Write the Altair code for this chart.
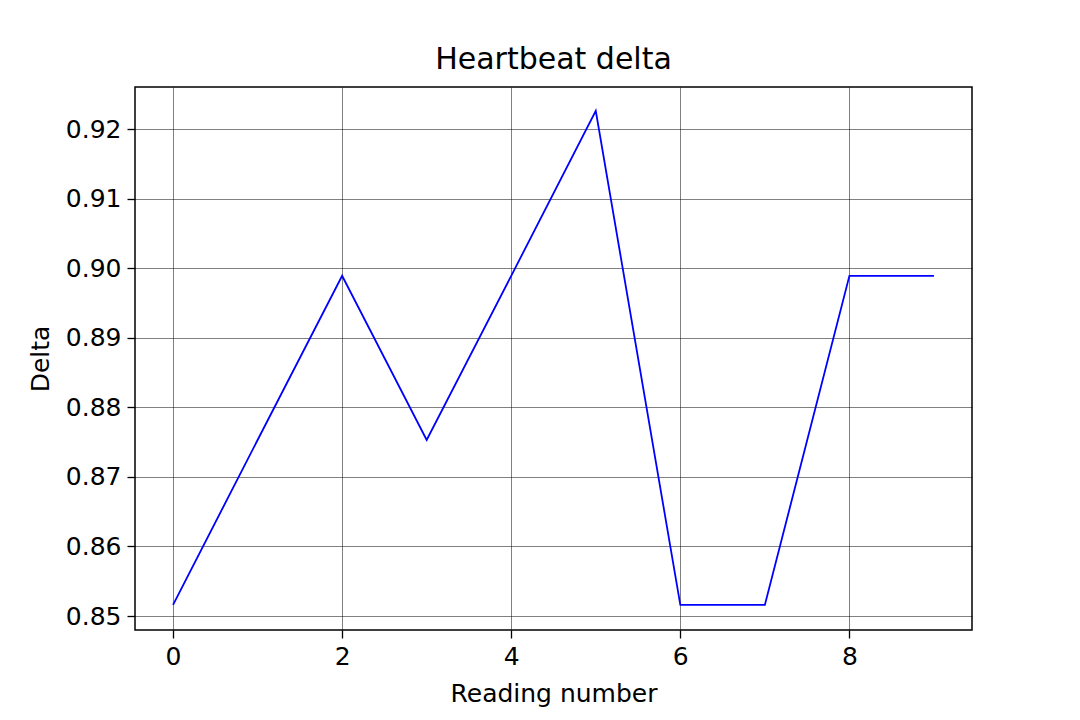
import altair as alt
import pandas as pd

readings = [0, 1, 2, 3, 4, 5, 6, 7, 8, 9]
deltas = [0.8516, 0.8753, 0.8989, 0.8753, 0.8989, 0.9226, 0.8516, 0.8516, 0.8989, 0.8989]
x_ticks = [0, 2, 4, 6, 8]
y_ticks = [0.85, 0.86, 0.87, 0.88, 0.89, 0.90, 0.91, 0.92]

df = pd.DataFrame({"reading": readings, "delta": deltas})

FONT = "DejaVu Sans"

chart = alt.Chart(df).mark_line(color="#0000ff", strokeWidth=1.8, clip=True).encode(
    x=alt.X("reading:Q",
            scale=alt.Scale(domain=[-0.45, 9.45], nice=False, zero=False),
            axis=alt.Axis(values=x_ticks, title="Reading number", format="d")),
    y=alt.Y("delta:Q",
            scale=alt.Scale(domain=[0.84799, 0.92604], nice=False, zero=False),
            axis=alt.Axis(values=y_ticks, title="Delta", format=".2f")),
).properties(
    width=837,
    height=543,
    title=alt.TitleParams("Heartbeat delta", font=FONT, fontSize=30, fontWeight="normal",
                          color="black", offset=12),
    autosize=alt.AutoSizeParams(type="none"),
    padding={"left": 135, "top": 87, "right": 108, "bottom": 90},
).configure_view(
    stroke="black", strokeWidth=1.5
).configure_axis(
    grid=True, gridColor="black", gridWidth=0.5, gridOpacity=1,
    domain=False,
    ticks=True, tickColor="black", tickSize=8, tickWidth=1.3,
    labelFont=FONT, labelFontSize=25, labelColor="black", labelPadding=6,
    titleFont=FONT, titleFontSize=25, titleFontWeight="normal", titleColor="black",
).configure_axisX(
    titlePadding=12
).configure_axisY(
    titlePadding=12
)

chart.save("out.html", embed_options={"renderer": "svg", "actions": False})
